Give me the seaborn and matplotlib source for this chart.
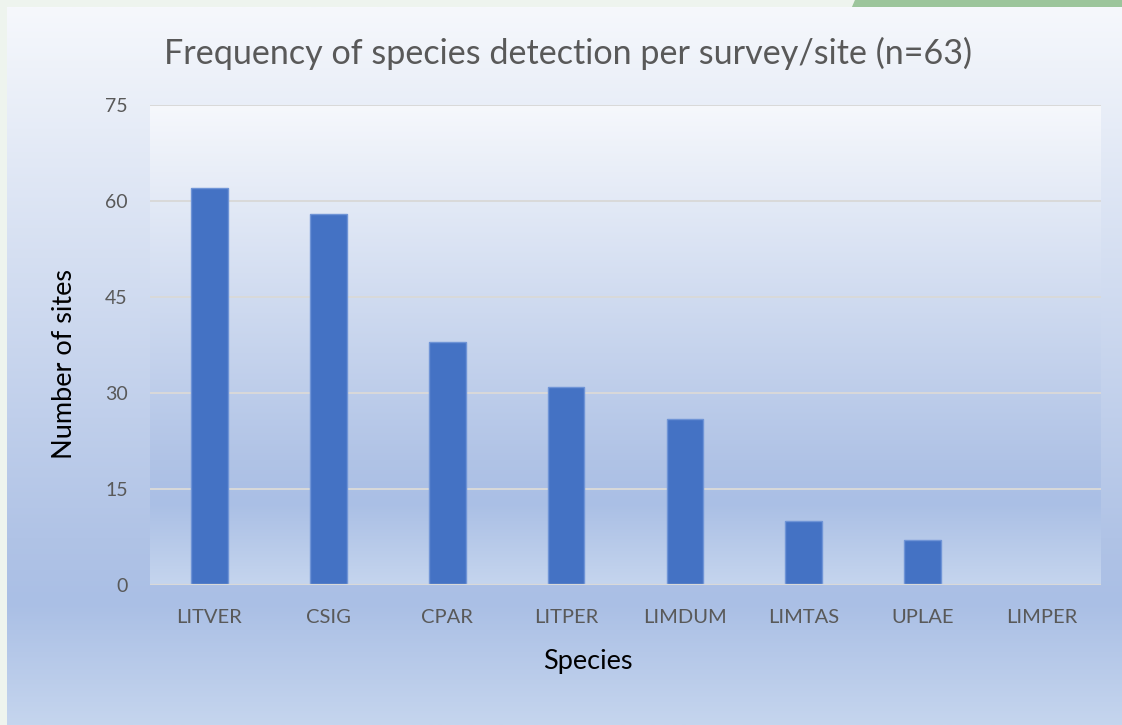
import numpy as np
import matplotlib.pyplot as plt
import seaborn as sns

species = ["LITVER", "CSIG", "CPAR", "LITPER", "LIMDUM", "LIMTAS", "UPLAE", "LIMPER"]
sites = [62, 58, 38, 31, 26, 10, 7, 0]
yticks = [0, 15, 30, 45, 60, 75]

sns.set_theme(style="white")
plt.rcParams["font.family"] = ["Lato", "DejaVu Sans"]

W, H = 1122, 725
fig = plt.figure(figsize=(W / 100, H / 100), dpi=100)


def gradient(n):
    # office style "light gradient" stops: light top, darkest at ~83%, lighter at bottom
    stops = [0.0, 0.74, 0.83, 1.0]
    cols = np.array([[246, 248, 252], [176, 195, 230], [170, 191, 229], [197, 213, 238]]) / 255
    t = np.linspace(0, 1, n)
    img = np.stack([np.interp(t, stops, cols[:, i]) for i in range(3)], axis=-1)
    return img[:, None, :]


# background + frame
bg = fig.add_axes([0, 0, 1, 1])
bg.set_xlim(0, W)
bg.set_ylim(H, 0)
bg.axis("off")
bg.add_patch(plt.Rectangle((0, 0), W, H, color="#eef4ee", zorder=0))
bg.fill([855, W, W, 852], [0, 0, 7, 7], color="#9cc59b", zorder=1)
bg.imshow(gradient(400), extent=(7, W, H, 7), aspect="auto", zorder=2)

# plot area
ax = fig.add_axes([150 / W, (H - 585) / H, 951 / W, 480 / H])
ax.set_facecolor("none")
ax.imshow(gradient(300), extent=(-0.5, 7.5, 0, 75), aspect="auto", zorder=0)

sns.barplot(x=species, y=sites, ax=ax, color="#4472c4", width=0.31,
            edgecolor="#6f94d6", linewidth=1, saturation=1, zorder=3)

ax.set_xlim(-0.5, 7.5)
ax.set_ylim(0, 75)
ax.set_yticks(yticks)
for y in yticks[1:]:
    ax.axhline(y, color="#d9d9d9", lw=1.4, zorder=1)
ax.axhline(0, color="#d9d9d9", lw=1.6, zorder=4)
for s in ax.spines.values():
    s.set_visible(False)

ax.tick_params(axis="both", length=0, colors="#595959")
ax.tick_params(axis="x", pad=17, labelsize=14.5)
ax.tick_params(axis="y", pad=16, labelsize=14)

ax.set_xlabel("Species", fontsize=19.5, color="black", labelpad=17)
ax.set_ylabel("Number of sites", fontsize=19.5, color="black", labelpad=20.5)
# excel centres the axis titles on the whole chart, not the plot area
ax.xaxis.label.set_x(0.46)
ax.yaxis.label.set_y(0.46)

fig.text(568 / W, 1 - 53 / H, "Frequency of species detection per survey/site (n=63)",
         ha="center", va="center", fontsize=24.6, color="#595959")

fig.savefig("out.png", dpi=100)
